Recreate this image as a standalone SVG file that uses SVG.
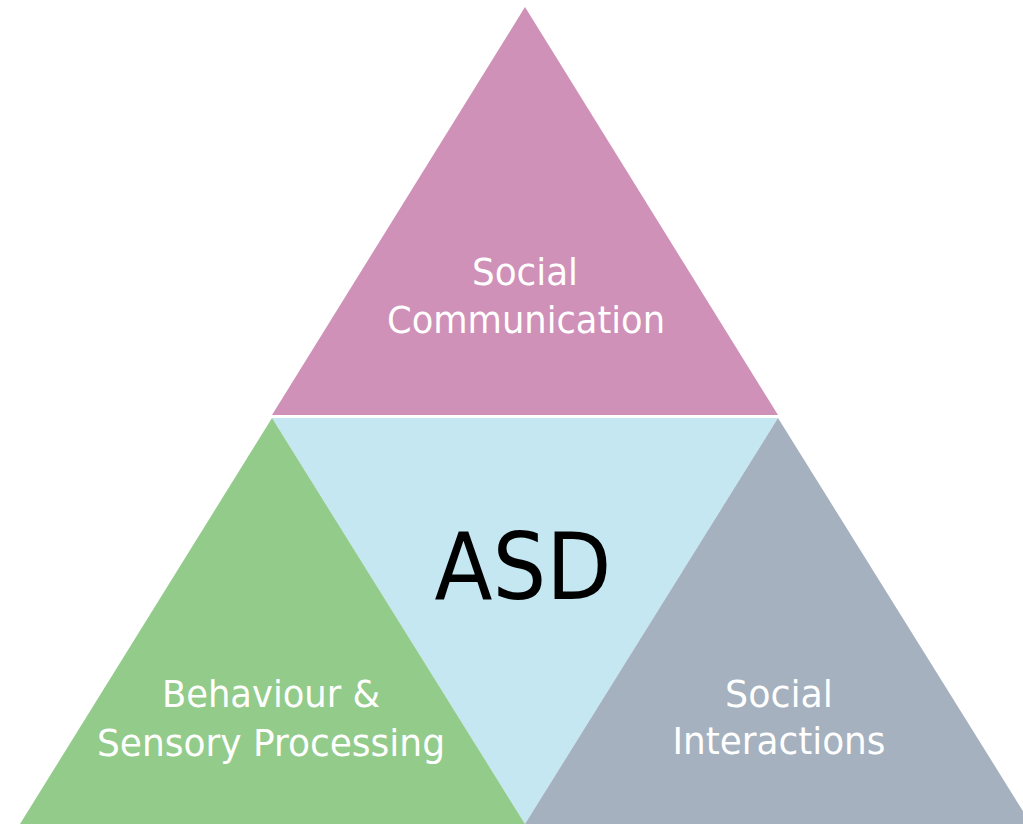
<svg xmlns="http://www.w3.org/2000/svg" width="1023" height="824" viewBox="0 0 1023 824">
<style>
.lbl{font-family:"DejaVu Sans Condensed","Roboto","Liberation Sans",sans-serif;font-size:38px;fill:#ffffff;text-anchor:middle}
.main{font-family:"DejaVu Sans Condensed","Roboto","Liberation Sans",sans-serif;font-size:92px;fill:#000000;text-anchor:middle}
</style>
<rect x="0" y="0" width="1023" height="824" fill="#ffffff"/>
<g id="center">
<polygon points="272,418 778,418 525,824" fill="#c4e7f1"/>
<text class="main" x="523" y="599" textLength="177" lengthAdjust="spacingAndGlyphs">ASD</text>
</g>
<g id="social-communication">
<polygon points="525,7 778,415 272,415" fill="#cf91b7"/>
<text class="lbl" x="525" y="285" textLength="106" lengthAdjust="spacingAndGlyphs">Social</text>
<text class="lbl" x="526" y="333" textLength="278" lengthAdjust="spacingAndGlyphs">Communication</text>
</g>
<g id="behaviour">
<polygon points="272,418 525,824 20,824" fill="#93cb8b"/>
<text class="lbl" x="271" y="707" textLength="218" lengthAdjust="spacingAndGlyphs">Behaviour &amp;</text>
<text class="lbl" x="271" y="756" textLength="348" lengthAdjust="spacingAndGlyphs">Sensory Processing</text>
</g>
<g id="social-interactions">
<polygon points="778,418 1031,824 525,824" fill="#a5b1be"/>
<text class="lbl" x="779" y="707" textLength="108" lengthAdjust="spacingAndGlyphs">Social</text>
<text class="lbl" x="779" y="754" textLength="213" lengthAdjust="spacingAndGlyphs">Interactions</text>
</g>
<g id="connectors"></g>
</svg>
